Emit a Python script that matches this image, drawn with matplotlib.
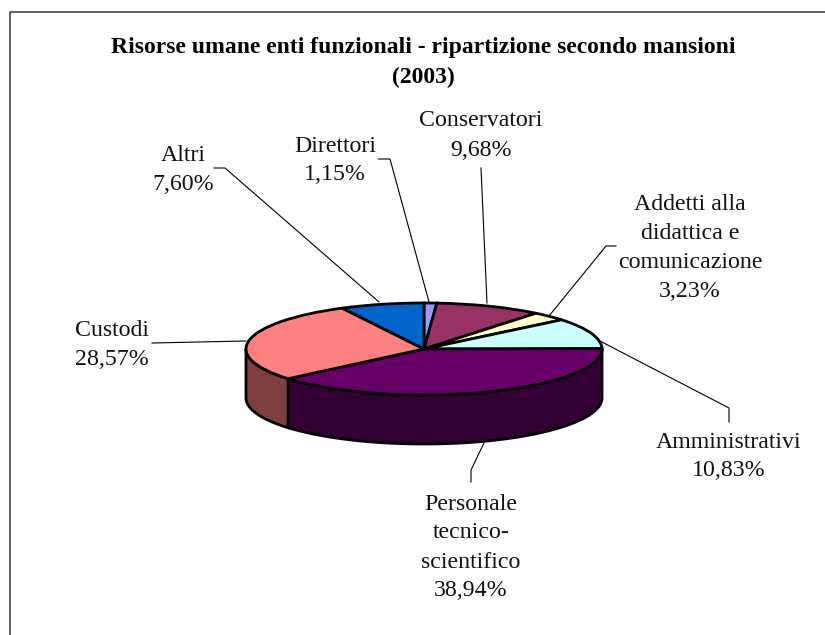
#!/usr/bin/env python3
"""3D-style pie of staff split by role (2003)."""

import matplotlib

matplotlib.use("Agg")
import matplotlib.pyplot as plt
import numpy as np
from matplotlib.patches import Polygon

labels = [
    "Direttori\n1,15%",
    "Conservatori\n9,68%",
    "Addetti alla\ndidattica e\ncomunicazione\n3,23%",
    "Amministrativi\n10,83%",
    "Personale\ntecnico-\nscientifico\n38,94%",
    "Custodi\n28,57%",
    "Altri\n7,60%",
]
values = [1.15, 9.68, 3.23, 10.83, 38.94, 28.57, 7.60]
top_colors = ["#9999FF", "#993366", "#FFFFCC", "#CCFFFF", "#660066", "#FF8080", "#0066CC"]
side_colors = ["#4C4C80", "#4C1933", "#808066", "#668080", "#330033", "#804040", "#003366"]
title = "Risorse umane enti funzionali - ripartizione secondo mansioni\n(2003)"

# pixel layout of the picture
W, H = 825, 635
CX, CY, RX, RY, DEPTH = 424, 349, 178, 46, 49
label_pos = [(335, 160.5), (481, 135.5), (690, 248), (729, 456.5), (471, 547.5), (112, 345), (183, 170)]
leaders = [
    [(378.5, 159), (390, 159), (429, 302)],
    [(481, 168), (487, 303)],
    [(616, 246), (606, 246), (549, 316)],
    [(598, 340), (729, 408), (729, 422)],
    [(471, 482), (471, 470), (484, 443)],
    [(152, 343), (246, 341)],
    [(214, 168), (225, 168), (379, 302)],
]

plt.rcParams["font.family"] = ["Liberation Serif", "DejaVu Serif"]
fig = plt.figure(figsize=(W / 100, H / 100), dpi=100, facecolor="white")

# pie axes: unit circle squashed into the ellipse, y up
pie_ax = fig.add_axes([0, 0, 1, 1], zorder=1)
pie_ax.pie(
    values,
    colors=top_colors,
    startangle=90,
    counterclock=False,
    radius=1,
    wedgeprops={"edgecolor": "black", "linewidth": 2.0, "zorder": 3},
)
pie_ax.set_aspect("auto")
pie_ax.set_xlim(-CX / RX, (W - CX) / RX)
pie_ax.set_ylim(-(H - CY) / RY, CY / RY)
pie_ax.axis("off")

# side walls of the front half, from the same cumulative angles
edges = np.concatenate([[0], np.cumsum(values)]) / sum(values) * 2 * np.pi
depth = DEPTH / RY
for i, color in enumerate(side_colors):
    start, end = max(edges[i], np.pi / 2), min(edges[i + 1], 3 * np.pi / 2)
    if end <= start:
        continue
    theta = np.linspace(start, end, 120)
    x, y = np.sin(theta), np.cos(theta)
    outline = np.column_stack([np.r_[x, x[::-1]], np.r_[y, y[::-1] - depth]])
    pie_ax.add_patch(Polygon(outline, closed=True, facecolor=color, edgecolor="black",
                             linewidth=2.0, zorder=2))

# overlay in pixel coordinates for frame, leaders and text
ax = fig.add_axes([0, 0, 1, 1], zorder=2)
ax.set_xlim(0, W)
ax.set_ylim(H, 0)
ax.axis("off")
ax.patch.set_alpha(0)

ax.plot([10, 10, W], [H, 12, 12], color="#333333", linewidth=1.1)

for pts in leaders:
    ax.plot(*zip(*pts), color="black", linewidth=0.8)

for text, (x, y) in zip(labels, label_pos):
    ax.text(x, y, text, ha="center", va="center", fontsize=17.2, linespacing=1.5, color="#111111")

ax.text(423.5, 62.5, title, ha="center", va="center", fontsize=17, fontweight="bold", linespacing=1.52)

fig.savefig("out.png", dpi=100)
